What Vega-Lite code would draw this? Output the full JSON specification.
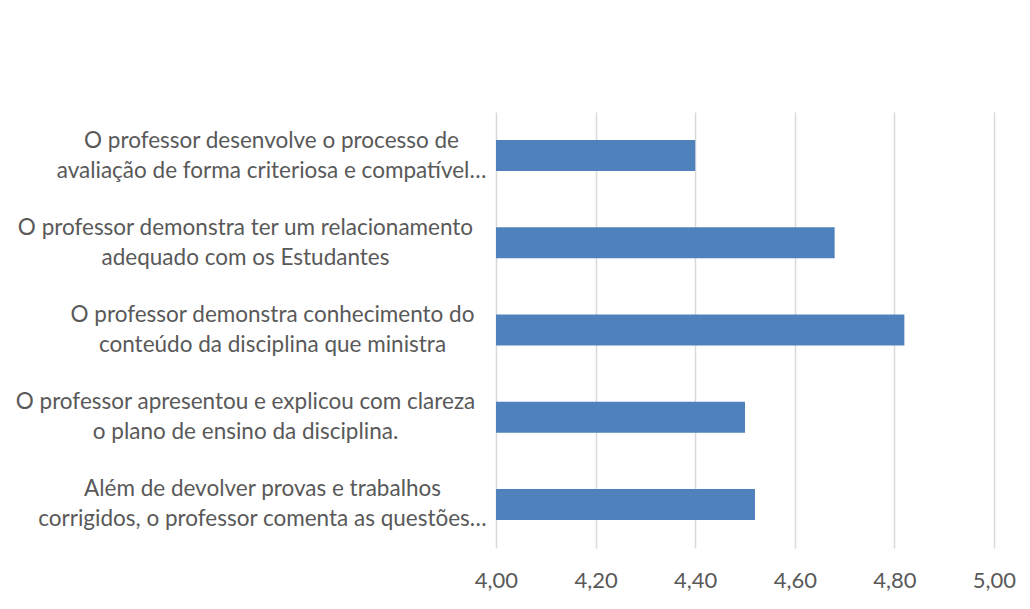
{
  "$schema": "https://vega.github.io/schema/vega-lite/v6.json",
  "width": 498,
  "height": 436,
  "autosize": {"type": "none"},
  "padding": {"left": 496, "top": 112, "right": 36, "bottom": 61},
  "background": "white",
  "config": {
    "view": {"stroke": null},
    "font": "Lato"
  },
  "data": {
    "values": [
      {"item": "O professor desenvolve o processo de|avaliação de forma criteriosa e compatível…", "score": 4.40},
      {"item": "O professor demonstra ter um relacionamento|adequado com os Estudantes", "score": 4.68},
      {"item": "O professor demonstra conhecimento do|conteúdo da disciplina que ministra", "score": 4.82},
      {"item": "O professor apresentou e explicou com clareza|o plano de ensino da disciplina.", "score": 4.50},
      {"item": "Além de devolver provas e trabalhos|corrigidos, o professor comenta as questões…", "score": 4.52}
    ]
  },
  "mark": {"type": "bar", "color": "#4F81BD"},
  "encoding": {
    "y": {
      "field": "item",
      "type": "nominal",
      "sort": null,
      "title": null,
      "scale": {"paddingInner": 0.6445, "paddingOuter": 0.322},
      "axis": {
        "domain": false,
        "ticks": false,
        "tickSize": 0,
        "labelExpr": "split(datum.label, '|')",
        "labelAlign": "center",
        "labelBaseline": "middle",
        "labelLineHeight": 30,
        "labelOffset": -15,
        "labelFont": "Lato",
        "labelFontSize": 22.5,
        "labelColor": "#595959",
        "labelLimit": 0,
        "labelPadding": {
          "condition": [
            {"test": "indexof(datum.value, 'desenvolve') >= 0", "value": 225},
            {"test": "indexof(datum.value, 'relacionamento') >= 0", "value": 251},
            {"test": "indexof(datum.value, 'conhecimento') >= 0", "value": 224},
            {"test": "indexof(datum.value, 'apresentou') >= 0", "value": 251}
          ],
          "value": 234
        }
      }
    },
    "x": {
      "field": "score",
      "type": "quantitative",
      "title": null,
      "scale": {"domain": [4, 5], "zero": false, "nice": false},
      "axis": {
        "values": [4, 4.2, 4.4, 4.6, 4.8, 5],
        "labelExpr": "replace(format(datum.value, '.2f'), '.', ',')",
        "domain": false,
        "ticks": false,
        "tickSize": 0,
        "grid": true,
        "gridColor": "#D9D9D9",
        "gridWidth": 1.5,
        "labelFont": "Lato",
        "labelFontSize": 22,
        "labelColor": "#595959",
        "labelBaseline": "middle",
        "labelPadding": 32,
        "labelFlush": false
      }
    },
    "x2": {"datum": 4}
  }
}
